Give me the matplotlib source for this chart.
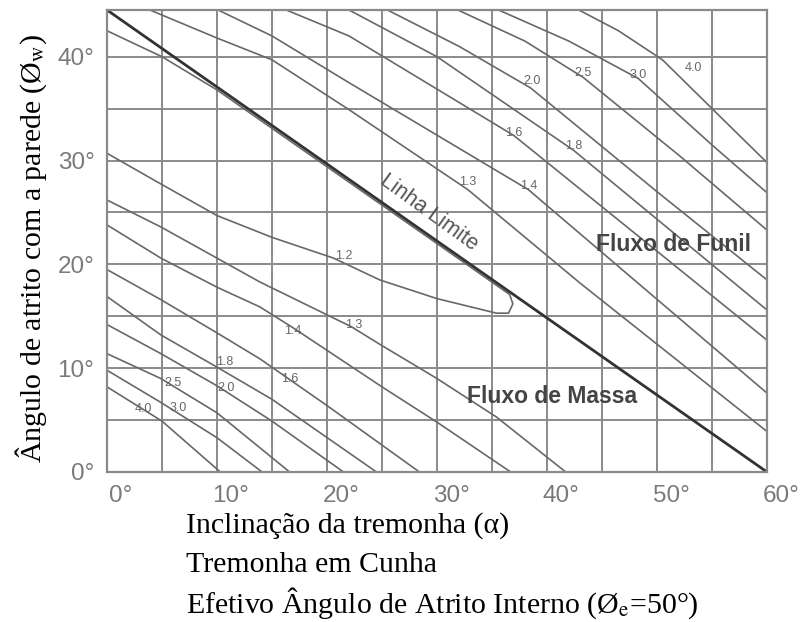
import matplotlib
matplotlib.use("Agg")
import matplotlib.pyplot as plt
import matplotlib.transforms as mtransforms
import numpy as np

plt.rcParams['mathtext.fontset'] = 'stix'

# limit line (mass flow / funnel flow boundary)
limit_x = [0, 60]
limit_y = [44.5, 0]

# flow-factor curves below the limit line (mass flow)
mass_labels = ['1.2', '1.3', '1.4', '1.6', '1.8', '2.0', '2.5', '3.0', '4.0']
mass_x = [
    [0, 4.8, 10, 15, 20.6, 24.8, 30, 35.4, 36.5, 36.9, 36.6, 30, 20, 15, 10, 5, 0],
    [0, 4.9, 10, 13.9, 22.2, 24.8, 30, 35.4, 41.7],
    [0, 4.9, 10, 13.9, 16.9, 25, 30, 36.7],
    [0, 4.9, 10, 13.9, 20, 28.4],
    [0, 4.9, 10, 15, 24.5],
    [0, 4.9, 10, 15, 21.5],
    [0, 4.9, 10, 16.6],
    [0, 4.9, 10, 14.1],
    [0, 5, 10.3],
]
mass_y = [
    [30.7, 27.8, 24.7, 22.6, 20.6, 18.5, 16.7, 15.3, 15.3, 16.2, 17.1, 22.0, 29.4, 33.1, 36.8, 40.0, 42.5],
    [26.2, 23.6, 20.6, 18.3, 14.0, 12.3, 9.0, 5.3, 0],
    [23.8, 20.6, 17.8, 15.9, 13.9, 8.2, 4.8, 0],
    [19.5, 16.6, 13.4, 10.9, 6.4, 0],
    [16.9, 13.2, 10.1, 7.0, 0],
    [14.2, 11.4, 8.3, 4.9, 0],
    [11.4, 9.0, 5.7, 0],
    [9.8, 6.7, 3.3, 0],
    [8.2, 4.9, 0],
]
mass_label_x = [21.5, 22.4, 16.9, 16.6, 10.7, 10.8, 6.0, 6.5, 3.3]
mass_label_y = [20.8, 14.2, 13.6, 9.0, 10.6, 8.1, 8.6, 6.2, 6.1]

# flow-factor curves above the limit line (funnel flow)
funnel_labels = ['1.3', '1.4', '1.6', '1.8', '2.0', '2.5', '3.0', '4.0']
funnel_x = [
    [3.9, 10, 15, 22, 32.8, 43, 60],
    [10.1, 15, 22, 38.3, 60],
    [16.3, 22, 37, 60],
    [22, 30, 42.4, 60],
    [25.5, 32, 38.5, 50, 60],
    [31.9, 38, 43.3, 52, 60],
    [35.6, 42, 48.3, 55, 60],
    [42.9, 46.5, 50.5, 55.1, 60],
]
funnel_y = [
    [44.5, 41.8, 39.7, 34.9, 27.2, 18.2, 3.9],
    [44.5, 42, 37.5, 27.2, 7.6],
    [44.5, 42, 32.4, 12.7],
    [44.5, 40, 31.0, 15.6],
    [44.5, 41, 37.0, 27, 18.5],
    [44.5, 41.5, 38.0, 30.5, 23.3],
    [44.5, 41.5, 37.9, 31.5, 26.9],
    [44.5, 42.5, 39.7, 34.9, 29.8],
]
funnel_label_x = [32.8, 38.3, 37.0, 42.4, 38.6, 43.3, 48.3, 53.3]
funnel_label_y = [27.9, 27.5, 32.7, 31.4, 37.7, 38.4, 38.2, 38.9]

x_ticks = [0, 10, 20, 30, 40, 50, 60]
y_ticks = [0, 10, 20, 30, 40]

fig = plt.figure(figsize=(8.04, 6.22), dpi=100)
ax = fig.add_axes([107 / 804, 1 - 472 / 622, 660 / 804, 462 / 622])

grid_c = '#8a8a8a'
curve_c = '#686868'
sans = ['Liberation Sans', 'DejaVu Sans']

for xs, ys in zip(mass_x, mass_y):
    ax.plot(xs, ys, color=curve_c, lw=1.2, solid_joinstyle='round')
for xs, ys in zip(funnel_x, funnel_y):
    ax.plot(xs, ys, color=curve_c, lw=1.2, solid_joinstyle='round')
ax.plot(limit_x, limit_y, color='#333333', lw=2.0)

lab_font = dict(fontsize=9, color='#666666', ha='center', va='center', family=sans)
for t, x, y in zip(mass_labels, mass_label_x, mass_label_y):
    ax.text(x, y, t, **lab_font)
for t, x, y in zip(funnel_labels, funnel_label_x, funnel_label_y):
    ax.text(x, y, t, **lab_font)

ax.text(29.3, 25.0, 'Linha Limite', rotation=-36, fontsize=15.5, color='#555555',
        ha='center', va='center', rotation_mode='anchor', family=sans)
ax.text(51.5, 21.9, 'Fluxo de Funil', fontsize=16.5, fontweight='bold', color='#444444',
        ha='center', va='center', family=sans)
ax.text(40.5, 7.3, 'Fluxo de Massa', fontsize=16.5, fontweight='bold', color='#444444',
        ha='center', va='center', family=sans)

ax.set_xlim(0, 60)
ax.set_ylim(0, 44.5)
ax.set_xticks(x_ticks)
ax.set_yticks(y_ticks)
ax.set_xticks(np.arange(0, 61, 5), minor=True)
ax.set_yticks(np.arange(0, 45, 5), minor=True)
ax.set_xticklabels([f'{v}°' for v in x_ticks])
ax.set_yticklabels([f'{v}°' for v in y_ticks])
ax.grid(True, which='both', color=grid_c, lw=1.4)
ax.set_axisbelow(True)
ax.tick_params(which='both', length=0, labelsize=17.5, labelcolor='#7a7a7a', pad=9)
for lbl in ax.get_xticklabels() + ax.get_yticklabels():
    lbl.set_fontfamily(sans)
offset = mtransforms.ScaledTranslation(14 / 100, 0, fig.dpi_scale_trans)
for lbl in ax.get_xticklabels():
    lbl.set_transform(lbl.get_transform() + offset)
for s in ax.spines.values():
    s.set_color(grid_c)
    s.set_linewidth(1.6)

serif = ['Liberation Serif', 'DejaVu Serif']
fig.text(31 / 804, 1 - 248 / 622, 'Ângulo de atrito com a parede (Ø$_\\mathrm{w}$)',
         rotation=90, ha='center', va='center', fontsize=21.5, family=serif)
fig.text(186 / 804, 1 - 526 / 622, 'Inclinação da tremonha (α)', ha='left', va='center',
         fontsize=21.5, family=serif)
fig.text(186 / 804, 1 - 565 / 622, 'Tremonha em Cunha', ha='left', va='center',
         fontsize=21.5, family=serif)
fig.text(186 / 804, 1 - 603 / 622, 'Efetivo Ângulo de Atrito Interno (Ø$_\\mathrm{e}$=50°)',
         ha='left', va='center', fontsize=21.5, family=serif)

fig.savefig('out.png', dpi=100)
